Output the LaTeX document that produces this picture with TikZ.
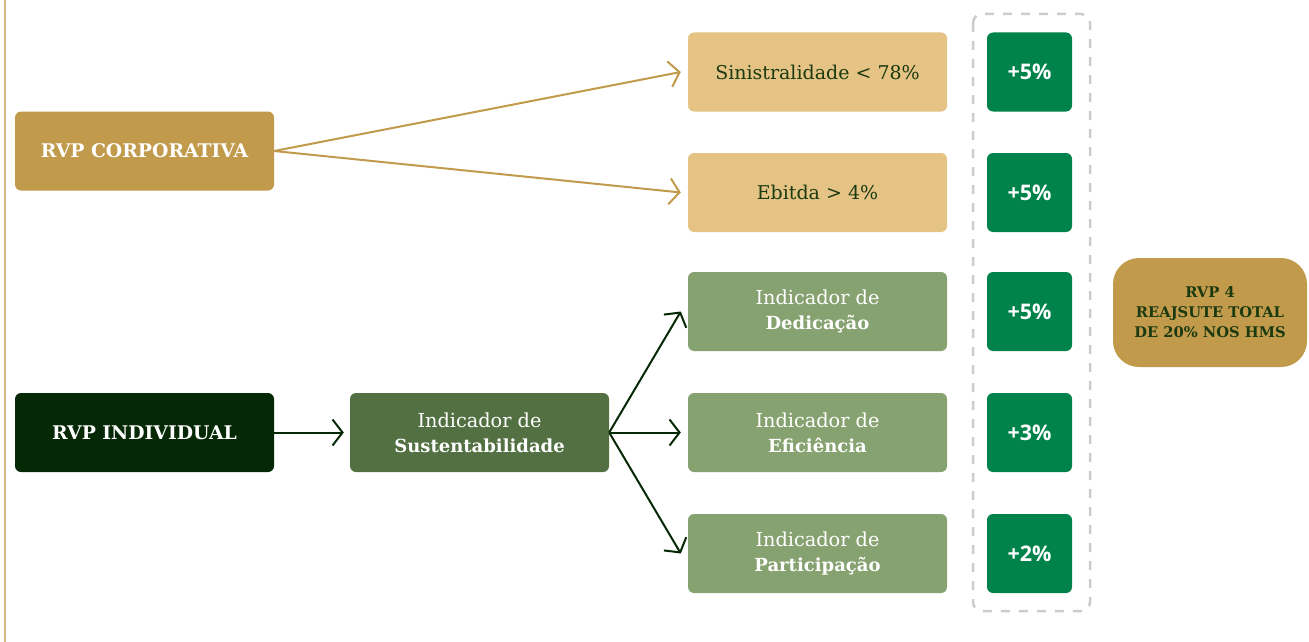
\documentclass[tikz,border=0pt]{standalone}
\usepackage{fontspec}
\setmainfont{DejaVu Serif}
\newfontfamily\pctfont{Open Sans}
\usetikzlibrary{arrows.meta}
\definecolor{gold}{HTML}{C19A4B}
\definecolor{lightgold}{HTML}{E5C385}
\definecolor{darkgreen}{HTML}{062905}
\definecolor{midgreen}{HTML}{537042}
\definecolor{lightgreen}{HTML}{87A271}
\definecolor{pctgreen}{HTML}{00834A}
\definecolor{txtgreen}{HTML}{1B3A10}
\definecolor{dashgray}{HTML}{CCCCCC}
\newcommand{\bl}[1]{{\fontsize{18}{25}\selectfont\bfseries #1}}
\tikzset{
  box/.style={rectangle, rounded corners=6pt, minimum width=259pt, minimum height=79pt, inner sep=0pt, align=center},
  corpbox/.style={box, fill=gold, text=white, font=\fontsize{18.8}{22}\selectfont\bfseries},
  indbox/.style={box, fill=darkgreen, text=white, font=\fontsize{18.8}{22}\selectfont\bfseries},
  sustbox/.style={box, fill=midgreen, text=white, font=\fontsize{19.3}{25}\selectfont},
  condbox/.style={box, fill=lightgold, text=txtgreen, font=\fontsize{19}{25}\selectfont},
  indicbox/.style={box, fill=lightgreen, text=white, font=\fontsize{19.3}{25}\selectfont},
  pctbox/.style={rectangle, rounded corners=6pt, minimum width=85pt, minimum height=79pt, inner sep=0pt, fill=pctgreen, text=white, font=\fontsize{21.5}{22}\pctfont\bfseries},
  goldarrow/.style={draw=gold, line width=2pt, -{Straight Barb[length=10pt,width=26pt,line width=2pt]}},
  greenarrow/.style={draw=darkgreen, line width=2pt, -{Straight Barb[length=10pt,width=26pt,line width=2pt]}},
}
\begin{document}
\begin{tikzpicture}[x=1pt,y=-1pt]
\useasboundingbox (0,0) rectangle (1309,642);
% left rule
\coordinate (lt) at (5,0);
\coordinate (lb) at (5,642);
\draw[gold!70, line width=1.5pt] (lt) -- (lb);
% dashed frame
\draw[dashgray, line width=2.5pt, dash pattern=on 9pt off 9pt, rounded corners=9pt] (973,14) rectangle (1090,611);

\node[corpbox] (corp) at (144.5,151) {RVP CORPORATIVA};
\node[indbox] (indiv) at (144.5,432.5) {RVP INDIVIDUAL};
\node[sustbox] (sust) at (479.5,432.5) {Indicador de\\\bl{Sustentabilidade}};
\node[condbox] (sin) at (817.5,72) {Sinistralidade < 78\%};
\node[condbox] (ebi) at (817.5,192.5) {Ebitda > 4\%};
\node[indicbox] (ded) at (817.5,311.5) {Indicador de\\\bl{Dedicação}};
\node[indicbox] (efi) at (817.5,432.5) {Indicador de\\\bl{Eficiência}};
\node[indicbox] (par) at (817.5,553.5) {Indicador de\\\bl{Participação}};

\node[pctbox] (p1) at (1029.5,72) {+5\%};
\node[pctbox] (p2) at (1029.5,192.5) {+5\%};
\node[pctbox] (p3) at (1029.5,311.5) {+5\%};
\node[pctbox] (p4) at (1029.5,432.5) {+3\%};
\node[pctbox] (p5) at (1029.5,553.5) {+2\%};

\node[rectangle, rounded corners=26pt, minimum width=194pt, minimum height=109pt, inner sep=0pt, fill=gold, text=txtgreen, align=center, font=\fontsize{14.7}{20}\selectfont\bfseries] (rvp4) at (1210,312.5) {RVP 4\\REAJSUTE TOTAL\\DE 20\% NOS HMS};

\coordinate (sinin) at ([xshift=-7pt]sin.west);
\coordinate (ebiin) at ([xshift=-7pt]ebi.west);
\coordinate (sustin) at ([xshift=-6pt]sust.west);
\coordinate (dedin) at ([xshift=-7pt]ded.west);
\coordinate (efiin) at ([xshift=-7pt]efi.west);
\coordinate (parin) at ([xshift=-7pt]par.west);

\draw[goldarrow] (corp.east) -- (sinin);
\draw[goldarrow] (corp.east) -- (ebiin);
\draw[greenarrow] (indiv.east) -- (sustin);
\draw[greenarrow] (sust.east) -- (dedin);
\draw[greenarrow] (sust.east) -- (efiin);
\draw[greenarrow] (sust.east) -- (parin);
\end{tikzpicture}
\end{document}
